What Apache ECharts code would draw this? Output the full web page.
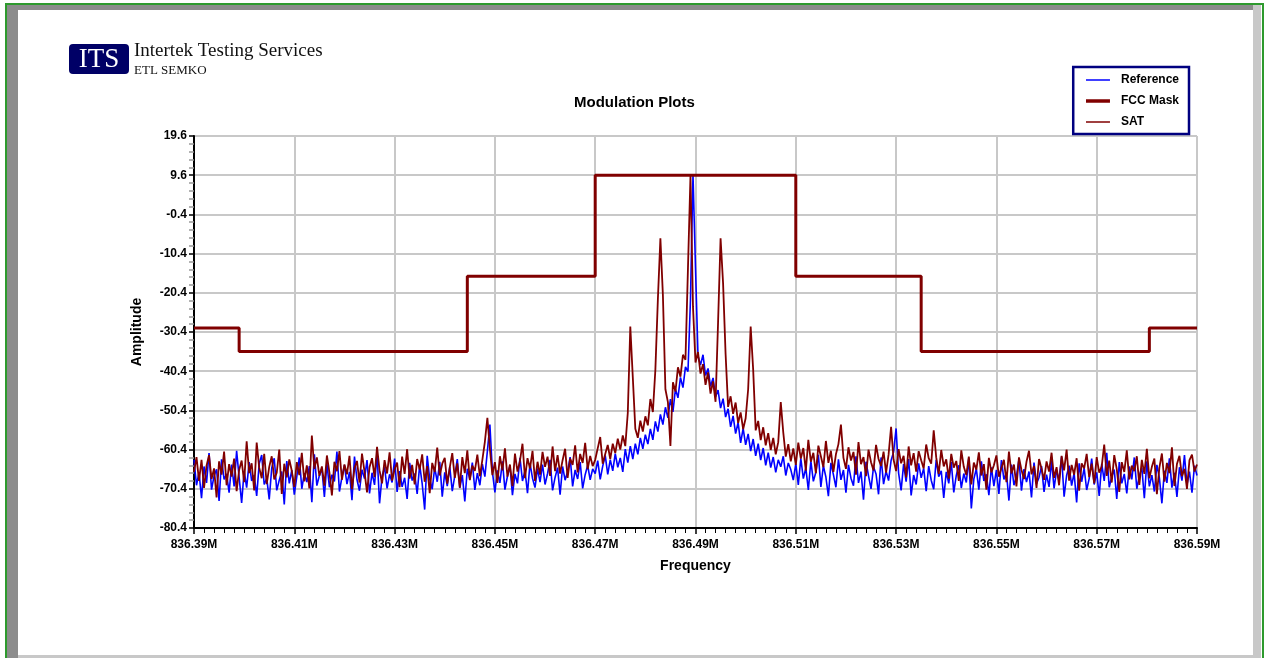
<!DOCTYPE html>
<html>
<head>
<meta charset="utf-8">
<title>Modulation Plots</title>
<script src="https://cdn.jsdelivr.net/npm/echarts@6/dist/echarts.min.js"></script>
<style>
  html, body { margin: 0; padding: 0; background: #fff; }
  #chart { width: 1265px; height: 658px; }
</style>
</head>
<body>
<div id="chart"></div>
<script>
// sweep: 401 samples from 836.39 MHz, 0.5 kHz apart
const freqStart = 836.39;
const freqStep = 0.0005;

// Reference trace (dBm)
const referenceValues = [
  -63.0, -69.5, -66.2, -72.8, -64.7, -68.9, -61.3, -70.6, -67.1, -65.4, -73.5, -62.9, -68.0, -66.6, -71.4, -64.2, -69.8, -60.7, -67.5, -74.0,
  -65.8, -70.1, -63.6, -68.4, -66.9, -72.2, -64.0, -61.8, -69.3, -67.7, -73.1, -65.1, -62.6, -70.8, -68.2, -66.0, -74.4, -63.3, -69.0, -65.6,
  -71.9, -67.3, -62.4, -70.4, -66.4, -68.7, -64.6, -73.8, -61.6, -69.6, -67.0, -65.2, -72.5, -63.9, -70.0, -66.8, -68.5, -60.9, -71.1, -67.4,
  -64.4, -69.2, -66.1, -73.3, -62.2, -68.1, -70.9, -65.5, -67.8, -63.1, -71.6, -66.3, -69.4, -61.5, -74.1, -67.2, -64.9, -70.3, -66.7, -68.8,
  -62.7, -71.2, -65.9, -69.9, -67.6, -73.0, -63.8, -68.3, -66.5, -71.7, -64.3, -69.1, -75.7, -62.0, -67.9, -70.5, -65.0, -68.6, -63.5, -72.4,
  -66.2, -69.7, -64.8, -71.0, -67.1, -62.8, -70.2, -66.9, -73.6, -65.3, -68.0, -63.7, -70.7, -66.4, -69.5, -64.1, -67.3, -60.8, -54.0, -66.0,
  -71.3, -65.7, -68.9, -63.4, -70.6, -67.2, -64.5, -72.0, -66.6, -69.0, -62.5, -68.4, -65.8, -71.5, -63.9, -67.7, -70.1, -65.2, -68.7, -64.2,
  -69.3, -66.5, -63.0, -70.8, -67.5, -65.0, -71.9, -64.7, -68.2, -66.0, -62.3, -69.8, -65.6, -67.9, -63.6, -70.3, -66.8, -64.4, -68.1, -65.3,
  -66.5, -63.2, -68.0, -64.6, -61.9, -66.7, -63.0, -65.8, -61.4, -64.9, -62.5, -66.1, -60.3, -63.7, -59.5, -62.8, -58.9, -61.6, -57.4, -60.2,
  -56.6, -59.0, -55.1, -57.9, -53.2, -55.8, -51.4, -54.0, -49.6, -52.3, -47.5, -50.8, -44.9, -47.2, -42.0, -44.6, -39.3, -40.5, -22.0, 9.8,
  -14.0, -36.5, -38.8, -36.2, -41.5, -39.7, -44.3, -42.1, -47.0, -45.2, -49.8, -47.4, -52.1, -50.0, -54.6, -51.8, -56.3, -53.5, -58.7, -55.0,
  -59.2, -56.4, -60.8, -57.7, -62.0, -58.9, -63.1, -60.0, -64.4, -61.2, -65.0, -62.3, -66.2, -63.0, -64.8, -62.1, -67.0, -63.8, -65.5, -68.2,
  -64.0, -69.4, -62.6, -67.8, -65.1, -70.7, -63.3, -68.5, -66.2, -61.7, -69.9, -64.5, -67.4, -72.3, -63.8, -66.8, -70.0, -62.9, -68.1, -65.6,
  -71.4, -64.3, -67.7, -69.6, -62.1, -68.9, -66.0, -73.2, -63.5, -67.1, -70.4, -64.8, -66.6, -71.8, -62.4, -69.2, -65.9, -68.3, -63.2, -61.0,
  -55.0, -66.4, -70.8, -64.1, -68.6, -62.8, -72.1, -66.9, -69.3, -63.9, -67.6, -65.2, -71.0, -64.6, -68.2, -70.5, -63.0, -67.3, -65.8, -72.7,
  -66.1, -69.0, -63.6, -71.3, -67.0, -64.4, -70.2, -66.5, -68.8, -62.5, -75.4, -67.9, -65.3, -70.6, -63.4, -68.4, -66.7, -72.0, -64.9, -69.7,
  -65.6, -71.7, -63.1, -68.0, -66.3, -73.4, -64.2, -69.5, -67.2, -62.9, -70.9, -65.4, -68.7, -66.0, -72.6, -63.7, -69.1, -67.5, -64.6, -71.2,
  -66.8, -69.9, -63.3, -70.3, -65.7, -68.2, -62.2, -72.4, -67.0, -64.5, -69.6, -66.4, -73.9, -63.9, -68.6, -65.1, -70.7, -67.8, -62.7, -69.3,
  -66.2, -72.2, -64.0, -68.4, -61.2, -70.0, -67.3, -65.5, -73.0, -63.6, -69.0, -66.6, -71.6, -64.7, -68.0, -62.4, -70.4, -67.1, -65.0, -72.8,
  -63.4, -69.8, -66.9, -71.1, -64.3, -67.6, -74.1, -65.8, -68.9, -62.6, -70.1, -66.3, -72.5, -64.9, -68.3, -61.8, -69.4, -66.0, -71.4, -64.5,
  -67.0
];

// SAT trace (dBm)
const satValues = [
  -66.1, -62.3, -68.4, -63.0, -70.2, -64.5, -61.8, -67.9, -65.2, -72.6, -63.4, -66.8, -60.9, -69.5, -64.1, -67.3, -62.7, -71.0, -65.6, -63.2,
  -68.7, -58.3, -66.4, -63.9, -70.8, -58.6, -65.0, -67.7, -61.5, -69.2, -64.8, -62.1, -68.0, -66.3, -60.4, -71.7, -64.0, -67.5, -62.9, -65.8,
  -69.9, -63.6, -66.9, -61.2, -68.5, -64.4, -70.3, -56.8, -65.3, -62.4, -67.1, -64.7, -69.6, -61.9, -66.2, -72.1, -63.5, -65.9, -60.8, -68.1,
  -64.2, -66.7, -62.0, -70.5, -65.1, -63.3, -68.8, -61.4, -66.0, -71.3, -64.9, -62.6, -67.4, -59.7, -65.7, -69.0, -63.1, -66.5, -61.1, -68.3,
  -65.4, -63.7, -70.0, -62.2, -66.6, -60.3, -67.8, -64.3, -69.3, -62.8, -65.5, -61.6, -68.6, -64.6, -71.5, -63.8, -66.1, -59.9, -67.0, -64.0,
  -62.5, -69.1, -65.0, -61.3, -67.6, -63.9, -70.1, -62.3, -66.4, -60.6, -68.2, -64.5, -65.8, -61.7, -67.2, -63.0, -58.4, -52.3, -60.2, -66.9,
  -63.6, -68.9, -62.1, -65.7, -60.1, -67.3, -64.2, -69.7, -61.4, -66.0, -63.3, -58.9, -67.7, -62.6, -65.2, -60.7, -68.4, -63.5, -66.8, -61.0,
  -64.8, -62.2, -67.1, -59.6, -65.9, -61.8, -66.5, -63.1, -60.2, -67.6, -62.7, -64.3, -59.3, -66.2, -61.5, -63.8, -58.7, -65.4, -62.0, -64.6,
  -63.0, -60.1, -57.2, -64.0, -61.5, -59.2, -62.8, -58.9, -61.3, -57.6, -60.4, -56.8, -59.5, -51.0, -29.0, -42.0, -55.1, -57.4, -53.0, -55.8,
  -51.9, -54.2, -47.5, -50.8, -40.0, -22.0, -6.5, -21.0, -45.0, -48.3, -59.5, -43.2, -45.6, -39.4, -41.8, -36.2, -37.5, -14.0, 9.5, -24.0,
  -38.2, -35.5, -41.0, -38.6, -43.9, -40.7, -46.1, -43.0, -48.2, -28.0, -6.5, -18.0, -36.0, -49.5, -46.8, -51.3, -48.4, -53.6, -50.9, -55.2,
  -52.4, -45.0, -29.0, -40.0, -55.5, -53.1, -58.0, -54.7, -59.3, -56.2, -60.5, -57.4, -61.6, -58.5, -48.3, -56.0, -62.2, -59.0, -63.4, -60.1,
  -64.3, -58.6, -62.7, -60.0, -65.8, -57.9, -63.5, -61.2, -66.4, -59.4, -62.1, -64.9, -58.2, -63.8, -60.7, -66.1, -61.6, -59.0, -54.0, -62.5,
  -65.3, -59.8, -63.2, -61.0, -66.8, -58.5, -64.1, -62.3, -67.2, -60.4, -63.6, -65.7, -59.2, -62.8, -64.6, -60.9, -66.3, -61.7, -54.6, -63.0,
  -65.9, -60.3, -63.9, -62.0, -67.5, -59.6, -64.4, -61.3, -66.0, -60.8, -63.1, -65.2, -59.1, -62.6, -64.0, -55.5, -62.4, -66.6, -60.5, -64.7,
  -62.9, -67.8, -61.5, -65.0, -63.3, -68.4, -60.6, -64.8, -66.9, -62.2, -69.3, -63.7, -65.5, -61.1, -67.0, -64.1, -70.6, -62.5, -66.2, -64.4,
  -61.9, -67.3, -65.1, -63.0, -68.7, -60.9, -66.5, -64.2, -69.8, -62.4, -65.6, -67.9, -63.5, -60.7, -66.7, -64.6, -70.2, -62.8, -65.3, -68.1,
  -63.4, -66.0, -61.2, -67.6, -64.9, -69.5, -62.0, -65.7, -60.4, -68.3, -64.3, -66.8, -62.6, -70.9, -63.9, -65.2, -61.5, -67.4, -64.0, -69.0,
  -62.3, -66.3, -64.7, -59.1, -67.1, -63.2, -68.8, -61.8, -65.4, -71.2, -63.6, -66.1, -60.6, -68.0, -64.5, -65.9, -62.1, -69.4, -63.0, -66.6,
  -60.2, -67.7, -64.8, -62.7, -71.8, -65.0, -61.4, -68.6, -63.8, -66.4, -59.8, -69.7, -64.1, -62.0, -67.2, -65.3, -70.4, -63.1, -61.7, -66.0,
  -64.2
];

// FCC mask: level starts at each corner frequency (MHz, dBm)
const maskFreqs = [836.39, 836.399, 836.4445, 836.47, 836.51, 836.535, 836.5805, 836.59];
const maskLevels = [-29.4, -35.4, -16.2, 9.6, -16.2, -35.4, -29.4, -29.4];

const toPairs = (vals) => vals.map((v, i) => [freqStart + i * freqStep, v]);

const chart = echarts.init(document.getElementById("chart"), null, { renderer: "canvas" });

const boldFont = "Liberation Sans, Arial, sans-serif";
const serifFont = "Liberation Serif, Times New Roman, serif";

chart.setOption({
    animation: false,
    backgroundColor: "#fff",
    title: {
        text: "Modulation Plots",
        left: 569,
        top: 90,
        textStyle: { fontFamily: boldFont, fontSize: 15, fontWeight: "bold", color: "#000" },
    },
    legend: {
        orient: "vertical",
        right: 76,
        top: 67,
        width: 113,
        padding: [7, 10, 6, 11],
        itemGap: 9,
        itemWidth: 24,
        itemHeight: 12,
        backgroundColor: "#fff",
        borderColor: "#000080",
        borderWidth: 2.5,
        itemStyle: { opacity: 0 },
        textStyle: { fontFamily: boldFont, fontSize: 12, fontWeight: "bold", color: "#000", padding: [0, 0, 0, 6] },
        data: [
            { name: "Reference", lineStyle: { width: 1.5 } },
            { name: "FCC Mask", lineStyle: { width: 3.5 } },
            { name: "SAT", lineStyle: { width: 1.5 } },
        ],
    },
    grid: { left: 194, right: 68, top: 136, bottom: 130, containLabel: false },
    xAxis: {
        type: "value",
        min: 836.39,
        max: 836.59,
        interval: 0.02,
        name: "Frequency",
        nameLocation: "middle",
        nameGap: 31,
        nameTextStyle: { fontFamily: boldFont, fontSize: 14, fontWeight: "bold", color: "#000" },
        axisLine: { onZero: false, lineStyle: { color: "#000", width: 2 } },
        axisTick: { length: 6, lineStyle: { color: "#000", width: 1.5 } },
        minorTick: { show: true, splitNumber: 10, length: 5, lineStyle: { color: "#000" } },
        axisLabel: {
            fontFamily: boldFont, fontSize: 12, fontWeight: "bold", color: "#000", margin: 11,
            formatter: (v) => v.toFixed(2) + "M",
        },
        splitLine: { show: true, lineStyle: { color: "#c8c8c8", width: 2 } },
    },
    yAxis: {
        type: "value",
        min: -80.4,
        max: 19.6,
        interval: 10,
        name: "Amplitude",
        nameLocation: "middle",
        nameGap: 50,
        nameTextStyle: { fontFamily: boldFont, fontSize: 14, fontWeight: "bold", color: "#000" },
        axisLine: { show: true, lineStyle: { color: "#000", width: 2 } },
        axisTick: { show: true, length: 5, lineStyle: { color: "#000", width: 1.5 } },
        minorTick: { show: true, splitNumber: 5, length: 5, lineStyle: { color: "#999", width: 1.5 } },
        axisLabel: {
            fontFamily: boldFont, fontSize: 12, fontWeight: "bold", color: "#000", margin: 7,
            formatter: (v) => v.toFixed(1),
        },
        splitLine: { show: true, lineStyle: { color: "#c8c8c8", width: 2 } },
    },
    series: [
        {
            name: "Reference",
            type: "line",
            symbol: "none",
            data: toPairs(referenceValues),
            lineStyle: { color: "#0000ff", width: 1.6 },
            itemStyle: { color: "#0000ff" },
            z: 2,
        },
        {
            name: "FCC Mask",
            type: "line",
            step: "end",
            symbol: "none",
            data: maskFreqs.map((f, i) => [f, maskLevels[i]]),
            lineStyle: { color: "#800000", width: 3 },
            itemStyle: { color: "#800000" },
            z: 4,
        },
        {
            name: "SAT",
            type: "line",
            symbol: "none",
            data: toPairs(satValues),
            lineStyle: { color: "#800000", width: 1.8 },
            itemStyle: { color: "#800000" },
            z: 3,
        },
    ],
    graphic: [
        // page frame with grey bevel
        { type: "rect", shape: { x: 6, y: 4, width: 1257, height: 660 }, style: { fill: "none", stroke: "#2e9a2e", lineWidth: 2 }, z: 10 },
        { type: "polygon", shape: { points: [[7, 5], [1253, 5], [1253, 10], [18, 10], [18, 658], [7, 658]] }, style: { fill: "#8c8c8c" }, z: 9 },
        { type: "polygon", shape: { points: [[1253, 5], [1261, 5], [1261, 658], [1253, 658]] }, style: { fill: "#c8c8c8" }, z: 9 },
        { type: "rect", shape: { x: 18, y: 655, width: 1236, height: 4 }, style: { fill: "#c8c8c8" }, z: 9 },
        // logo
        { type: "rect", shape: { x: 69, y: 44, width: 60, height: 30, r: 4 }, style: { fill: "#000066" } },
        { type: "text", x: 99, y: 60, style: { text: "ITS", fill: "#fff", font: "27px " + serifFont, align: "center", verticalAlign: "middle" } },
        { type: "text", x: 134, y: 42, style: { text: "Intertek Testing Services", fill: "#111", font: "19px " + serifFont } },
        { type: "text", x: 134, y: 64, style: { text: "ETL SEMKO", fill: "#111", font: "13px " + serifFont } },
    ],
});
</script>
</body>
</html>
